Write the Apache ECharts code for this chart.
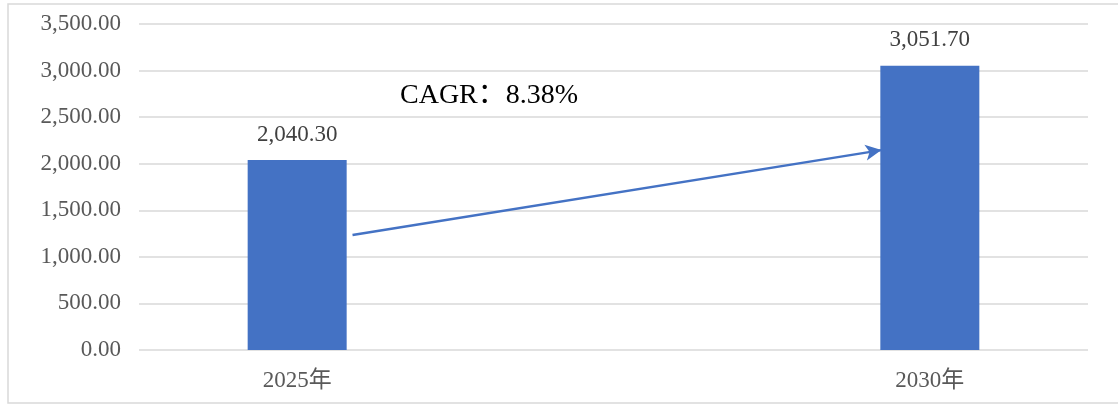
<!DOCTYPE html>
<html>
<head>
<meta charset="utf-8">
<script src="https://cdn.jsdelivr.net/npm/echarts@6/dist/echarts.min.js"></script>
<style>
  html, body { margin: 0; padding: 0; background: #fff; }
  #chart { width: 1118px; height: 405px; }
</style>
</head>
<body>
<div id="chart"></div>
<script>
// chart data
var years = ['2025年', '2030年'];
var values = [2040.30, 3051.70];
var yTicks = [0, 500, 1000, 1500, 2000, 2500, 3000, 3500];
// arrow annotation, in data units (x: category position, y: value)
var arrowFrom = [0.0875, 1234];
var arrowTo = [0.9235, 2146];
var cagrText = 'CAGR：8.38%';

var blue = '#4472C4';
var serif = '"Liberation Serif", "Noto Sans CJK SC", serif';

function fmt(v) {
    return v.toLocaleString('en-US', { minimumFractionDigits: 2, maximumFractionDigits: 2 });
}

var chart = echarts.init(document.getElementById('chart'));

chart.setOption({
    animation: false,
    backgroundColor: '#fff',
    grid: { left: 139, right: 30, top: 24, bottom: 55 },
    graphic: [
        {
            type: 'rect',
            shape: { x: 8, y: 4, width: 1140, height: 399 },
            style: { fill: 'none', stroke: '#d9d9d9', lineWidth: 1.5 },
            silent: true
        },
        {
            type: 'text',
            left: 400,
            top: 82,
            style: { text: cagrText, font: '28px ' + serif, fill: '#000' }
        }
    ],
    xAxis: {
        type: 'value',
        min: -0.25,
        max: 1.25,
        interval: 0.25,
        splitLine: { show: false },
        axisLine: { show: false },
        axisTick: { show: false },
        axisLabel: {
            margin: 19,
            color: '#595959',
            fontFamily: serif,
            fontSize: 23,
            formatter: function (v) {
                var i = Math.round(v);
                return (Math.abs(v - i) < 1e-6 && years[i]) ? years[i] : '';
            }
        }
    },
    yAxis: {
        type: 'value',
        min: yTicks[0],
        max: yTicks[yTicks.length - 1],
        interval: 500,
        axisLine: { show: false },
        axisTick: { show: false },
        splitLine: { lineStyle: { color: '#d9d9d9', width: 1.5 } },
        axisLabel: {
            margin: 18,
            color: '#595959',
            fontFamily: serif,
            fontSize: 23,
            formatter: function (v) { return fmt(v); }
        }
    },
    series: [
        {
            type: 'bar',
            barWidth: 99,
            itemStyle: { color: blue },
            data: values.map(function (v, i) { return [i, v]; }),
            label: {
                show: true,
                position: 'top',
                distance: 14,
                color: '#404040',
                fontFamily: serif,
                fontSize: 23,
                formatter: function (p) { return fmt(p.value[1]); }
            },
            markLine: {
                silent: true,
                symbol: ['none', 'arrow'],
                symbolSize: [12, 16],
                label: { show: false },
                lineStyle: { color: blue, width: 2.5, type: 'solid' },
                data: [[{ coord: arrowFrom }, { coord: arrowTo }]]
            }
        }
    ]
});
</script>
</body>
</html>
